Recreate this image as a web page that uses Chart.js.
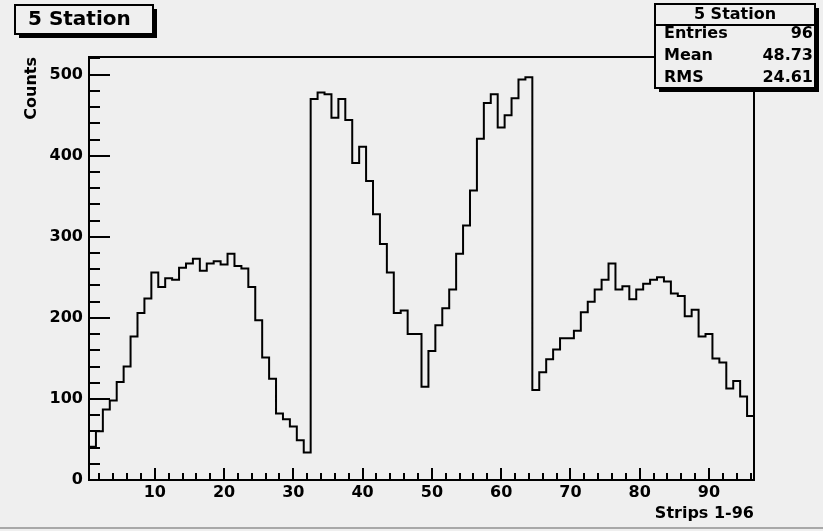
<!DOCTYPE html>
<html>
<head>
<meta charset="utf-8">
<script src="https://cdn.jsdelivr.net/npm/chart.js@4.4.1/dist/chart.umd.min.js"></script>
<style>
  html, body { margin: 0; padding: 0; background: #efefef; }
  canvas { display: block; }
</style>
</head>
<body>
<canvas id="hist" width="823" height="531"></canvas>
<script>
// Strip numbers (bin centres) and counts per strip
const strips = Array.from({ length: 96 }, (_, i) => i + 1);
const counts = [
   41,  60,  87,  98, 121, 140, 177, 206, 224, 256,
  238, 249, 247, 262, 267, 273, 258, 267, 270, 266,
  279, 264, 261, 238, 197, 151, 125,  82,  75,  66,
   49,  34, 470, 478, 476, 447, 470, 444, 391, 411,
  369, 328, 291, 256, 206, 209, 180, 180, 115, 159,
  191, 212, 235, 279, 314, 357, 421, 465, 476, 435,
  450, 471, 494, 497, 111, 133, 149, 161, 175, 175,
  184, 207, 220, 235, 247, 267, 235, 239, 223, 235,
  242, 247, 250, 245, 230, 227, 202, 210, 177, 180,
  150, 145, 113, 122, 103,  79
];

// Axis labels
const xTickLabels = [10, 20, 30, 40, 50, 60, 70, 80, 90];
const yTickLabels = [0, 100, 200, 300, 400, 500];
const xTitle = 'Strips 1-96';
const yTitle = 'Counts';

// Histogram title and statistics box
const histTitle = '5 Station';
const statsRows = [
  ['Entries', '96'],
  ['Mean', '48.73'],
  ['RMS', '24.61']
];

const BG = '#efefef';
const FONT = '"DejaVu Sans", "Liberation Sans", sans-serif';

// Step outline: each point sits on a bin's lower edge; the level runs to the next edge
const binWidth = 1;
const outline = [{ x: strips[0] - binWidth / 2, y: 0 }];
strips.forEach((s, i) => outline.push({ x: s - binWidth / 2, y: counts[i] }));
outline.push({ x: strips[strips.length - 1] + binWidth / 2, y: counts[counts.length - 1] });
outline.push({ x: strips[strips.length - 1] + binWidth / 2, y: 0 });

const yMax = 1.05 * Math.max(...counts);

// Canvas background
const background = {
  id: 'background',
  beforeDraw(chart) {
    const { ctx, width, height } = chart;
    ctx.save();
    ctx.fillStyle = BG;
    ctx.fillRect(0, 0, width, height);
    ctx.strokeStyle = '#a8a8a8';
    ctx.lineWidth = 2;
    ctx.beginPath();
    ctx.moveTo(0, height - 3);
    ctx.lineTo(width, height - 3);
    ctx.stroke();
    ctx.restore();
  }
};

// Frame plus inward major/minor ticks
const frameTicks = {
  id: 'frameTicks',
  afterDatasetsDraw(chart) {
    const { ctx, chartArea: a, scales: { x, y } } = chart;
    ctx.save();
    ctx.strokeStyle = '#000';
    ctx.lineWidth = 2;
    ctx.strokeRect(a.left, a.top, a.right - a.left, a.bottom - a.top);
    ctx.beginPath();
    for (let v = 2; v <= x.max; v += 2) {
      const px = Math.round(x.getPixelForValue(v));
      const len = v % 10 === 0 ? 12 : 7;
      ctx.moveTo(px, a.bottom);
      ctx.lineTo(px, a.bottom - len);
    }
    for (let v = 20; v <= y.max; v += 20) {
      const py = Math.round(y.getPixelForValue(v));
      const len = v % 100 === 0 ? 21 : 11;
      ctx.moveTo(a.left, py);
      ctx.lineTo(a.left + len, py);
    }
    ctx.stroke();
    ctx.restore();
  }
};

// ROOT-style paves with a drop shadow
function pave(ctx, x, y, w, h) {
  ctx.fillStyle = '#000';
  ctx.fillRect(x + 4, y + 4, w, h);
  ctx.fillStyle = BG;
  ctx.fillRect(x, y, w, h);
  ctx.strokeStyle = '#000';
  ctx.lineWidth = 2;
  ctx.strokeRect(x, y, w, h);
}

const paves = {
  id: 'paves',
  afterDraw(chart) {
    const { ctx } = chart;
    ctx.save();
    // title pave
    pave(ctx, 15, 5, 138, 29);
    ctx.fillStyle = '#000';
    ctx.font = 'bold 20px ' + FONT;
    ctx.textBaseline = 'middle';
    ctx.textAlign = 'left';
    ctx.fillText(histTitle, 28, 20);

    // statistics pave
    const sx = 655, sy = 4, sw = 160, sh = 84;
    pave(ctx, sx, sy, sw, sh);
    ctx.beginPath();
    ctx.moveTo(sx, 25);
    ctx.lineTo(sx + sw, 25);
    ctx.stroke();
    ctx.fillStyle = '#000';
    ctx.font = 'bold 16px ' + FONT;
    ctx.textAlign = 'center';
    ctx.fillText(histTitle, sx + sw / 2, 15);
    statsRows.forEach(([label, value], i) => {
      const ry = 34 + i * 22;
      ctx.textAlign = 'left';
      ctx.fillText(label, 664, ry);
      ctx.textAlign = 'right';
      ctx.fillText(value, 813, ry);
    });
    ctx.restore();
  }
};

const tickFont = { family: FONT, weight: 'bold', size: 16 };

new Chart(document.getElementById('hist'), {
  type: 'line',
  data: {
    datasets: [{
      data: outline,
      stepped: 'before',
      borderColor: '#000',
      borderWidth: 2,
      pointRadius: 0,
      fill: false
    }]
  },
  options: {
    responsive: false,
    animation: false,
    devicePixelRatio: 1,
    layout: { padding: { left: 0, right: 69, top: 57, bottom: 0 } },
    plugins: {
      legend: { display: false },
      tooltip: { enabled: false },
      title: { display: false }
    },
    scales: {
      x: {
        type: 'linear',
        min: strips[0] - binWidth / 2,
        max: strips[strips.length - 1] + binWidth / 2,
        afterFit(s) { s.height = 51; },
        afterBuildTicks(s) { s.ticks = xTickLabels.map(v => ({ value: v })); },
        grid: { display: false, drawTicks: false },
        border: { display: false },
        ticks: { font: tickFont, color: '#000', padding: 3, maxRotation: 0, autoSkip: false },
        title: {
          display: true, text: xTitle, align: 'end',
          font: tickFont, color: '#000', padding: { top: 0, bottom: 8 }
        }
      },
      y: {
        type: 'linear',
        min: 0,
        max: yMax,
        afterFit(s) { s.width = 89; },
        afterBuildTicks(s) { s.ticks = yTickLabels.map(v => ({ value: v })); },
        grid: { display: false, drawTicks: false },
        border: { display: false },
        ticks: { font: tickFont, color: '#000', padding: 6, autoSkip: false },
        title: {
          display: true, text: yTitle, align: 'end',
          font: tickFont, color: '#000', padding: { top: 22, bottom: 0 }
        }
      }
    }
  },
  plugins: [background, frameTicks, paves]
});
</script>
</body>
</html>
